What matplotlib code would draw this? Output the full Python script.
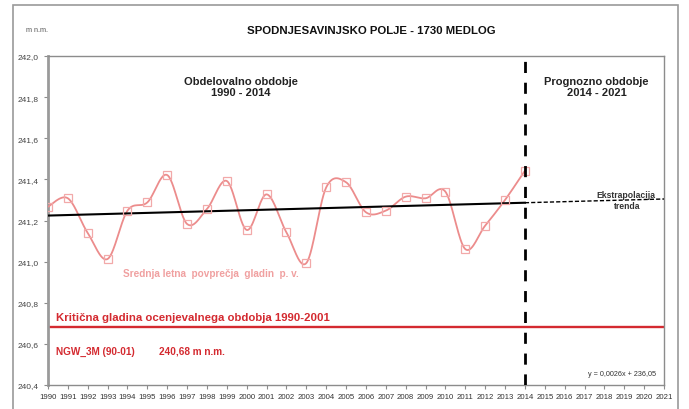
import numpy as np
import matplotlib
matplotlib.use("Agg")
import matplotlib.pyplot as plt
from matplotlib.patches import Rectangle

plt.rcParams['font.family'] = ['Liberation Sans', 'DejaVu Sans']

# Annual mean groundwater levels (m n.m.)
years = list(range(1990, 2015))
levels = [241.267, 241.308, 241.139, 241.013, 241.248, 241.288, 241.421, 241.183,
          241.256, 241.392, 241.154, 241.327, 241.142, 240.993, 241.361, 241.386,
          241.240, 241.248, 241.316, 241.308, 241.340, 241.061, 241.175, 241.300,
          241.442]

# Linear trend (y = 0,0026x + 236,05)
trend_slope = 0.0026
trend_intercept = 236.05

# Critical level NGW_3M (90-01)
critical_level = 240.68

x_ticks = list(range(1990, 2022))
y_ticks = [240.4, 240.6, 240.8, 241.0, 241.2, 241.4, 241.6, 241.8, 242.0]

PINK = '#ec8c8c'
PINK_MK = '#f2a9a9'
RED = '#d42a30'
GRAY = '#8c8c8c'


def smooth_curve(xs, ys, n=30):
    """Bezier smoothing through all points (Catmull-Rom style control points)."""
    xs = np.asarray(xs, float)
    ys = np.asarray(ys, float)
    px = np.concatenate([[xs[0]], xs, [xs[-1]]])
    py = np.concatenate([[ys[0]], ys, [ys[-1]]])
    outx, outy = [], []
    t = np.linspace(0, 1, n)
    for i in range(1, len(px) - 2):
        p0 = np.array([px[i - 1], py[i - 1]])
        p1 = np.array([px[i], py[i]])
        p2 = np.array([px[i + 1], py[i + 1]])
        p3 = np.array([px[i + 2], py[i + 2]])
        c1 = p1 + (p2 - p0) / 6.0
        c2 = p2 - (p3 - p1) / 6.0
        b = ((1 - t)[:, None] ** 3 * p1 + 3 * ((1 - t) ** 2 * t)[:, None] * c1
             + 3 * ((1 - t) * t ** 2)[:, None] * c2 + (t ** 3)[:, None] * p2)
        outx.extend(b[:, 0])
        outy.extend(b[:, 1])
    return np.array(outx), np.array(outy)


fig = plt.figure(figsize=(6.89, 4.10), dpi=100)

# outer chart frame
fig.patches.append(Rectangle((13 / 689, -0.01), (678 - 13) / 689, 1 - 6 / 410 + 0.01,
                             transform=fig.transFigure, fill=False,
                             edgecolor='#9a9a9a', linewidth=1.2))

ax = fig.add_axes([48 / 689, 1 - 386 / 410, (664 - 48) / 689, (386 - 57) / 410])
ax.set_xlim(1990, 2021)
ax.set_ylim(240.4, 242.0)

for side in ['top', 'right', 'bottom']:
    ax.spines[side].set_color(GRAY)
    ax.spines[side].set_linewidth(1.0)
ax.spines['left'].set_color('#9a9a9a')
ax.spines['left'].set_linewidth(2.0)

ax.set_xticks(x_ticks)
ax.set_xticklabels([str(y) for y in x_ticks], fontsize=5.6, color='#333333')
ax.set_yticks(y_ticks)
ax.set_yticklabels([f"{v:.1f}".replace('.', ',') for v in y_ticks], fontsize=6, color='#444444')
ax.tick_params(axis='both', direction='out', length=3, width=0.8, color=GRAY, pad=2)
ax.tick_params(axis='x', pad=3)
ax.tick_params(axis='y', pad=4)

# critical level
ax.axhline(critical_level, color=RED, linewidth=1.7, zorder=2)

# trend: fitted part and extrapolation
tx = np.array([1990, 2014])
ax.plot(tx, trend_slope * tx + trend_intercept, color='black', linewidth=1.5, zorder=4)
ex = np.array([2014, 2021])
ax.plot(ex, trend_slope * ex + trend_intercept, color='black', linewidth=1.0,
        linestyle=(0, (3, 1.5)), zorder=4)

# smoothed annual means with markers
sx, sy = smooth_curve(years, levels)
ax.plot(sx, sy, color=PINK, linewidth=1.3, zorder=3)
ax.plot(years, levels, linestyle='none', marker='s', markersize=6,
        markerfacecolor='none', markeredgecolor=PINK_MK, markeredgewidth=0.9, zorder=5)

# boundary between periods
ax.axvline(2014, color='black', linewidth=2.0, linestyle=(0, (4, 3.5)), zorder=6)

# annotations
ax.text(1999.7, 241.85, "Obdelovalno obdobje\n1990 - 2014", ha='center', va='center',
        fontsize=8, fontweight='bold', color='#222222', linespacing=1.1)
ax.text(2017.6, 241.85, "Prognozno obdobje\n2014 - 2021", ha='center', va='center',
        fontsize=8, fontweight='bold', color='#222222', linespacing=1.1)
ax.text(2019.1, 241.327, "Ekstrapolacija", ha='center', va='center',
        fontsize=6.2, fontweight='bold', color='#333333')
ax.text(2019.15, 241.272, "trenda", ha='center', va='center',
        fontsize=6.2, fontweight='bold', color='#333333')
ax.text(1998.2, 240.945, "Srednja letna  povprečja  gladin  p. v.", ha='center', va='center',
        fontsize=7.2, fontweight='bold', color='#f0a0a0')
ax.text(1990.4, 240.73, "Kritična gladina ocenjevalnega obdobja 1990-2001", ha='left',
        va='center', fontsize=8.2, fontweight='bold', color=RED)
ax.text(1990.4, 240.565, "NGW_3M (90-01)", ha='left', va='center',
        fontsize=7.2, fontweight='bold', color=RED)
ax.text(1995.6, 240.57, "240,68 m n.m.", ha='left', va='center',
        fontsize=7.2, fontweight='bold', color=RED)
ax.text(2020.6, 240.455, "y = 0,0026x + 236,05", ha='right', va='center',
        fontsize=5.2, color='#333333')

fig.text(371 / 689, 1 - 31 / 410, "SPODNJESAVINJSKO POLJE - 1730 MEDLOG", ha='center',
         va='center', fontsize=8.2, fontweight='bold', color='#111111')
fig.text(37 / 689, 1 - 31 / 410, "m n.m.", ha='center', va='center', fontsize=5.2,
         color='#555555')

fig.savefig("out.png", dpi=100)
